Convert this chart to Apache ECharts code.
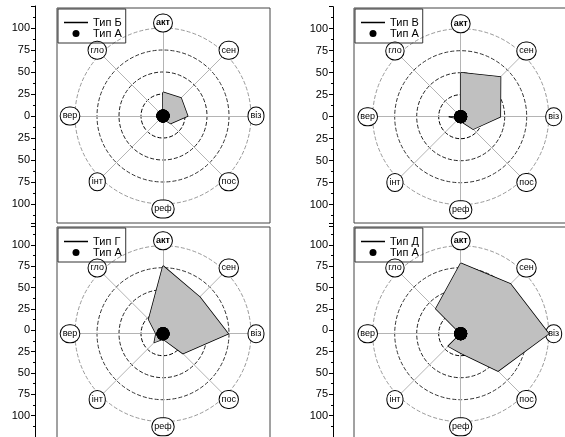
<!DOCTYPE html>
<html>
<head>
<meta charset="utf-8">
<script src="https://cdn.jsdelivr.net/npm/echarts@6/dist/echarts.min.js"></script>
<style>
html, body { margin: 0; padding: 0; background: #fff; }
#main { width: 565px; height: 437px; }
</style>
</head>
<body>
<div id="main"></div>
<script>
// directions, in radar order (counterclockwise from top)
var directions = ['акт', 'гло', 'вер', 'інт', 'реф', 'пос', 'віз', 'сен'];
var typeNames = ['Тип Б', 'Тип В', 'Тип Г', 'Тип Д'];
var refName = 'Тип А';

var typeA = [0, 0, 0, 0, 0, 0, 0, 0];
var typeB = [27, 0, 0, 0, 3, 12, 28, 29];
var typeV = [50, 0, 13, 3, 5, 20, 45, 64];
var typeG = [77, 23, 8, 14, 6, 32, 74, 59];
var typeD = [80, 40, 0, 20, 22, 60, 100, 80];

var dom = document.getElementById('main');
var myChart = echarts.init(dom);

var font = 'Liberation Sans, Arial, sans-serif';
var R = 88;
var panels = [
    {name: typeNames[0], values: typeB, cx: 163, cy: 116, axisX: 35, boxX: 57, boxY: 8},
    {name: typeNames[1], values: typeV, cx: 460.7, cy: 116.7, axisX: 333, boxX: 354, boxY: 8},
    {name: typeNames[2], values: typeG, cx: 163, cy: 333.7, axisX: 35, boxX: 57, boxY: 227},
    {name: typeNames[3], values: typeD, cx: 460.7, cy: 333.7, axisX: 333, boxX: 354, boxY: 227}
];

var radar = [], grid = [], xAxis = [], yAxis = [], series = [], legend = [], graphic = [];

panels.forEach(function (p, i) {
    radar.push({
        center: [p.cx, p.cy],
        radius: R,
        startAngle: 90,
        shape: 'circle',
        splitNumber: 4,
        indicator: directions.map(function (d) { return {name: d, min: 0, max: 100}; }),
        nameGap: 5,
        axisName: {
            formatter: function (v) { return v === 'акт' ? '{b|' + v + '}' : '{n|' + v + '}'; },
            align: 'center',
            verticalAlign: 'middle',
            backgroundColor: '#fff',
            borderColor: '#000',
            borderWidth: 1,
            borderRadius: 10,
            padding: [2, 2],
            width: 16,
            height: 13,
            rich: {
                n: {fontSize: 9, color: '#000', fontFamily: font, align: 'center', lineHeight: 13},
                b: {fontSize: 9, color: '#000', fontFamily: font, fontWeight: 'bold', align: 'center', lineHeight: 13}
            }
        },
        axisLine: {lineStyle: {color: '#b4b4b4', width: 1}},
        splitLine: {lineStyle: {color: ['#000', '#000', '#222', '#333', '#999'], type: [4, 2], width: 1}},
        splitArea: {show: false}
    });

    series.push({
        name: p.name,
        type: 'radar',
        radarIndex: i,
        symbol: 'none',
        itemStyle: {color: '#000'},
        lineStyle: {color: '#000', width: 1.5},
        areaStyle: {color: '#c0c0c0', opacity: 1},
        data: [{value: p.values, name: p.name}],
        z: 2
    });
    series.push({
        name: refName,
        type: 'radar',
        radarIndex: i,
        symbol: 'circle',
        symbolSize: 13,
        itemStyle: {color: '#000'},
        lineStyle: {width: 0},
        data: [{value: typeA, name: refName}],
        z: 3
    });

    grid.push({left: p.axisX, top: p.cy - 110, width: 1, height: 220});
    xAxis.push({gridIndex: i, type: 'value', show: false});
    yAxis.push({
        gridIndex: i,
        type: 'value',
        min: -125,
        max: 125,
        interval: 25,
        axisLine: {show: true, lineStyle: {color: '#000', width: 1}},
        axisTick: {show: true, length: 4, lineStyle: {color: '#000'}},
        minorTick: {show: true, splitNumber: 2, length: 2, lineStyle: {color: '#000'}},
        splitLine: {show: false},
        axisLabel: {
            fontSize: 11,
            color: '#000',
            fontFamily: font,
            margin: 5,
            formatter: function (v) { return Math.abs(v) > 100 ? '' : String(Math.abs(v)); }
        }
    });

    legend.push({
        left: p.boxX + 1,
        top: p.boxY + 1,
        orient: 'vertical',
        selectedMode: false,
        itemWidth: 24,
        itemHeight: 7,
        itemGap: 0,
        padding: [8, 4, 4, 6],
        borderColor: '#333',
        borderWidth: 1,
        textStyle: {fontSize: 11, color: '#000', fontFamily: font},
        data: [
            {name: p.name, icon: 'path://M0,0L24,0L24,1.5L0,1.5Z'},
            {name: refName, icon: 'circle'}
        ]
    });

    graphic.push({
        type: 'rect',
        shape: {x: p.boxX, y: p.boxY, width: p.boxX > 300 ? 240 : 213, height: 215},
        style: {fill: 'none', stroke: '#444', lineWidth: 1},
        z: -1
    });
});

var option = {
    animation: false,
    backgroundColor: '#fff',
    graphic: graphic,
    radar: radar,
    grid: grid,
    xAxis: xAxis,
    yAxis: yAxis,
    legend: legend,
    series: series
};

myChart.setOption(option);
</script>
</body>
</html>
